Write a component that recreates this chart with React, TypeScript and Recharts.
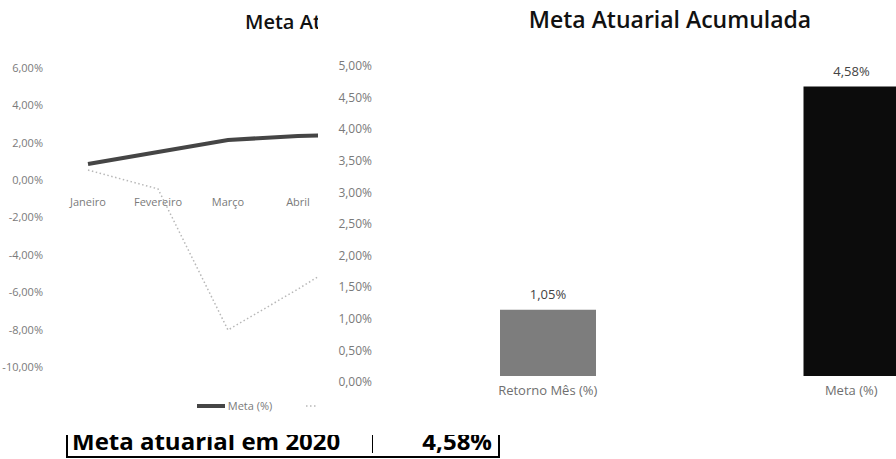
import React from 'react';
import { LineChart, Line, BarChart, Bar, Cell, LabelList, XAxis, YAxis, Legend } from 'recharts';

const meses = ['Janeiro', 'Fevereiro', 'Março', 'Abril', 'Maio'];
const metaMes = [0.86, 1.51, 2.15, 2.36, 2.45];
const retornoMes = [0.54, -0.47, -8.02, -5.83, -3.52];
const ticksEsquerda = [-10, -8, -6, -4, -2, 0, 2, 4, 6];
// rótulos de mês que aparecem antes do corte do gráfico
const mesesVisiveis = ['Janeiro', 'Fevereiro', 'Março', 'Abril'];

// Meta atuarial acumulada (gráfico da direita)
const categoriasAcum = ['Retorno Mês (%)', 'Meta (%)'];
const valoresAcum = [1.05, 4.58];
const coresAcum = ['#7d7d7d', '#0c0c0c'];
const ticksDireita = [0, 0.5, 1, 1.5, 2, 2.5, 3, 3.5, 4, 4.5, 5];

const metaAno = 4.58;

const lineData = meses.map((mes, i) => ({ mes, meta: metaMes[i], retorno: retornoMes[i] }));
const barData = categoriasAcum.map((nome, i) => ({ nome, valor: valoresAcum[i] }));

const pct = (v: number) => `${v.toFixed(2).replace('.', ',')}%`;

const lineStyles: Record<string, { stroke: string; width: number; dash?: string }> = {
  meta: { stroke: '#454545', width: 4 },
  retorno: { stroke: '#b8b8b8', width: 1.5, dash: '1.5 2.5' },
};

const LegendaLinhas = ({ payload }: any) => (
  <div style={{ display: 'flex', justifyContent: 'center', gap: 34, fontSize: 11, color: '#7a7a7a' }}>
    {(payload || []).map((p: any) => {
      const s = lineStyles[p.dataKey];
      return (
        <span key={p.dataKey} style={{ display: 'flex', alignItems: 'center' }}>
          <svg width={28} height={8}>
            <line x1={0} y1={4} x2={28} y2={4} stroke={s.stroke} strokeWidth={s.width} strokeDasharray={s.dash} />
          </svg>
          <span style={{ marginLeft: 3 }}>{p.value}</span>
        </span>
      );
    })}
  </div>
);

export default function App() {
  return (
    <div
      style={{
        position: 'fixed',
        left: 0,
        top: 0,
        width: 896,
        height: 459,
        overflow: 'hidden',
        background: '#fff',
        fontFamily: '"Open Sans", sans-serif',
      }}
    >
      {/* gráfico de linhas, cortado pelo gráfico da direita */}
      <div style={{ position: 'absolute', left: 0, top: 0 }}>
        <div style={{ position: 'absolute', left: 245, top: 8, fontSize: 20, fontWeight: 600, color: '#111', whiteSpace: 'nowrap' }}>
          Meta Atuarial x Retorno
        </div>
        <LineChart width={440} height={420} data={lineData} margin={{ top: 68, right: 37, left: 0, bottom: 23 }}>
          <XAxis
            dataKey="mes"
            axisLine={false}
            tickLine={false}
            tickSize={0}
            tickMargin={0}
            ticks={mesesVisiveis}
            interval={0}
            padding={{ left: 35, right: 35 }}
            tick={{ fontSize: 11, fill: '#7a7a7a', dy: -169 }}
          />
          <YAxis
            domain={[-10, 6]}
            ticks={ticksEsquerda}
            axisLine={false}
            tickLine={false}
            tickSize={0}
            tickMargin={10}
            width={53}
            tickFormatter={pct}
            tick={{ fontSize: 11, fill: '#7a7a7a' }}
          />
          <Legend
            verticalAlign="middle"
            align="center"
            content={<LegendaLinhas />}
            wrapperStyle={{ top: 398, left: 167, width: 284 }}
          />
          <Line
            type="linear"
            dataKey="meta"
            name="Meta (%)"
            stroke={lineStyles.meta.stroke}
            strokeWidth={lineStyles.meta.width}
            dot={false}
            isAnimationActive={false}
          />
          <Line
            type="linear"
            dataKey="retorno"
            name="Retorno Mês (%)"
            stroke={lineStyles.retorno.stroke}
            strokeWidth={lineStyles.retorno.width}
            strokeDasharray={lineStyles.retorno.dash}
            dot={false}
            isAnimationActive={false}
          />
        </LineChart>
      </div>

      {/* gráfico de barras: meta atuarial acumulada */}
      <div style={{ position: 'absolute', left: 318, top: 0, width: 578, height: 418, background: '#fff', overflow: 'hidden' }}>
        <div style={{ position: 'absolute', left: 0, width: 704, top: 3, textAlign: 'center', fontSize: 23, fontWeight: 600, color: '#111' }}>
          Meta Atuarial Acumulada
        </div>
        <BarChart width={700} height={418} data={barData} margin={{ top: 60, right: 15, left: 0, bottom: 12 }}>
          <XAxis
            dataKey="nome"
            axisLine={false}
            tickLine={false}
            tickSize={0}
            tickMargin={10}
            tick={{ fontSize: 13, fill: '#6f6f6f' }}
          />
          <YAxis
            domain={[0, 5]}
            ticks={ticksDireita}
            axisLine={false}
            tickLine={false}
            tickSize={0}
            tickMargin={24}
            width={78}
            tickFormatter={pct}
            tick={{ fontSize: 12, fill: '#7a7a7a', dy: 6 }}
          />
          <Bar dataKey="valor" barSize={96} isAnimationActive={false}>
            {barData.map((d, i) => (
              <Cell key={d.nome} fill={coresAcum[i]} />
            ))}
            <LabelList dataKey="valor" position="top" offset={11} formatter={(v: any) => pct(Number(v))} style={{ fontSize: 13, fill: '#444' }} />
          </Bar>
        </BarChart>
      </div>

      {/* linha da tabela abaixo, cortada no topo */}
      <div style={{ position: 'absolute', left: 66, top: 435, width: 434, height: 24, overflow: 'hidden' }}>
        <div
          style={{
            position: 'absolute',
            boxSizing: 'border-box',
            left: 0,
            top: -6,
            width: 434,
            height: 29,
            borderLeft: '2px solid #000',
            borderRight: '2px solid #000',
            borderBottom: '2px solid #000',
            fontSize: 24,
            fontWeight: 700,
            lineHeight: '24px',
            color: '#000',
            whiteSpace: 'nowrap',
          }}
        >
          <span style={{ position: 'absolute', left: 4, top: 0 }}>Meta atuarial em 2020</span>
          <span style={{ position: 'absolute', left: 304, top: 4, width: 1, height: 20, background: '#000' }} />
          <span style={{ position: 'absolute', right: 6, top: 0 }}>{pct(metaAno)}</span>
        </div>
      </div>
    </div>
  );
}
